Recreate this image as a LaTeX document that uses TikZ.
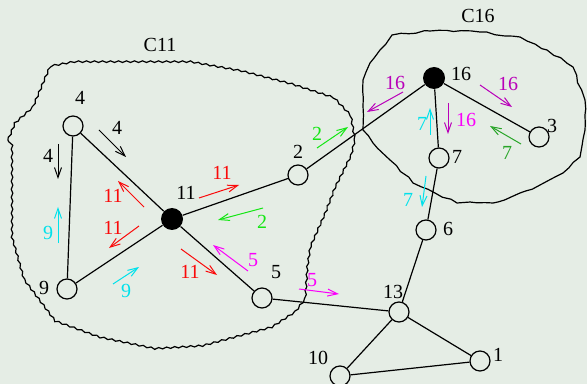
\documentclass[tikz,border=0pt]{standalone}
\usepackage{fontspec}
\setmainfont{Liberation Serif}
\usetikzlibrary{arrows.meta, decorations.pathmorphing}

\definecolor{bg}{RGB}{229,237,229}
\definecolor{msgred}{RGB}{250,10,10}
\definecolor{msggreen}{RGB}{20,230,20}
\definecolor{msgdkgreen}{RGB}{40,165,40}
\definecolor{msgcyan}{RGB}{0,225,235}
\definecolor{msgpurple}{RGB}{185,0,185}
\definecolor{msgmagenta}{RGB}{250,0,250}

\begin{document}
\begin{tikzpicture}[x=0.5pt, y=-0.5pt,
  vertex/.style={circle, draw, line width=0.6pt, minimum size=10pt, inner sep=0pt},
  hub/.style={circle, fill=black, minimum size=11pt, inner sep=0pt},
  link/.style={line width=0.6pt},
  msg/.style={line width=0.5pt, -{Straight Barb[length=5pt, width=3.5pt]}},
  cluster/.style={line width=0.6pt, decorate,
    decoration={snake, amplitude=0.4pt, segment length=4pt}},
  cluster16/.style={line width=0.6pt, decorate,
    decoration={random steps, amplitude=0.6pt, segment length=4pt}}]
  \fill [bg] (0,0) rectangle (587,384);
  \useasboundingbox (0,0) rectangle (587,384);

  % cluster boundaries
  \draw [cluster] (8,140) -- (15,123) -- (33,107) -- (43,83) -- (50,67)
    -- (72,63) -- (190,63) -- (240,72) -- (290,85) -- (330,98) -- (348,117)
    -- (352,140) -- (348,157) -- (333,187) -- (323,213) -- (308,247)
    -- (305,267) -- (303,297) -- (293,310) -- (267,327) -- (200,345)
    -- (150,348) -- (97,337) -- (50,320) -- (20,280) -- (8,238) -- cycle;
  \draw [cluster16] (430,31) -- (480,32) -- (520,37) -- (547,50) -- (573,67)
    -- (585,100) -- (585,130) -- (580,157) -- (563,173) -- (540,185)
    -- (520,193) -- (493,203) -- (457,203) -- (435,193) -- (413,183)
    -- (390,160) -- (373,143) -- (363,130) -- (363,80) -- (370,63)
    -- (380,50) -- (392,35) -- cycle;
  \node (c11) at (160,45) {C11};
  \node (c16) at (478,16) {C16};

  % vertices
  \node [vertex] (v4) at (73,126) {};
  \node [hub] (v11) at (172,219) {};
  \node [vertex] (v2) at (298,175) {};
  \node [vertex] (v9) at (67,289) {};
  \node [vertex] (v5) at (262,298) {};
  \node [hub] (v16) at (434,78) {};
  \node [vertex] (v3) at (539,137) {};
  \node [vertex] (v7) at (439,158) {};
  \node [vertex] (v6) at (426,230) {};
  \node [vertex] (v13) at (399,312) {};
  \node [vertex] (v10) at (340,376) {};
  \node [vertex] (v1) at (480,361) {};

  \node (t4) at (80,98) {4};
  \node (t11) at (186,193) {11};
  \node (t2) at (298,152) {2};
  \node (t9) at (44,288) {9};
  \node (t5) at (276,272) {5};
  \node (t16) at (461,74) {16};
  \node (t3) at (552,126) {3};
  \node (t7) at (457,157) {7};
  \node (t6) at (448,229) {6};
  \node (t13) at (393,292) {13};
  \node (t10) at (318,358) {10};
  \node (t1) at (498,355) {1};

  \draw [link] (v4) -- (v11);
  \draw [link] (v4) -- (v9);
  \draw [link] (v9) -- (v11);
  \draw [link] (v11) -- (v2);
  \draw [link] (v11) -- (v5);
  \draw [link] (v2) -- (v16);
  \draw [link] (v16) -- (v7);
  \draw [link] (v16) -- (v3);
  \draw [link] (v7) -- (v6);
  \draw [link] (v6) -- (v13);
  \draw [link] (v5) -- (v13);
  \draw [link] (v13) -- (v10);
  \draw [link] (v13) -- (v1);
  \draw [link] (v10) -- (v1);

  % messages
  \draw [msg] (99,130) -- (126,157);
  \node (m4a) at (117,128) {4};
  \draw [msg] (58,144) -- (58,179);
  \node (m4b) at (48,156) {4};

  \draw [msg, msgcyan] (58,243) -- (58,207);
  \node [msgcyan] (m9a) at (48,233) {9};
  \draw [msg, msgcyan] (113,284) -- (139,267);
  \node [msgcyan] (m9b) at (126,291) {9};
  \draw [msg, msgcyan] (430,135) -- (430,108);
  \node [msgcyan] (m7a) at (422,124) {7};
  \draw [msg, msgcyan] (426,176) -- (422,207);
  \node [msgcyan] (m7b) at (408,200) {7};

  \draw [msg, msgred] (199,198) -- (239,185);
  \node [msgred] (m11a) at (222,173) {11};
  \draw [msg, msgred] (144,207) -- (118,181);
  \node [msgred] (m11b) at (113,196) {11};
  \draw [msg, msgred] (139,226) -- (109,248);
  \node [msgred] (m11c) at (113,228) {11};
  \draw [msg, msgred] (181,249) -- (217,275);
  \node [msgred] (m11d) at (190,272) {11};

  \draw [msg, msggreen] (263,208) -- (218,220);
  \node [msggreen] (m2a) at (262,222) {2};
  \draw [msg, msggreen] (317,148) -- (348,127);
  \node [msggreen] (m2b) at (317,134) {2};
  \draw [msg, msgdkgreen] (521,144) -- (490,126);
  \node [msgdkgreen] (m7c) at (507,153) {7};

  \draw [msg, msgpurple] (403,92) -- (367,112);
  \node [msgpurple] (m16a) at (395,83) {16};
  \draw [msg, msgpurple] (480,85) -- (512,107);
  \node [msgpurple] (m16b) at (508,84) {16};
  \draw [msg, msgpurple] (448,103) -- (448,134);
  \node [msgmagenta] (m16c) at (466,120) {16};

  \draw [msg, msgmagenta] (248,271) -- (213,245);
  \node [msgmagenta] (m5a) at (253,260) {5};
  \draw [msg, msgmagenta] (299,289) -- (339,294);
  \node [msgmagenta] (m5b) at (312,280) {5};
\end{tikzpicture}
\end{document}
